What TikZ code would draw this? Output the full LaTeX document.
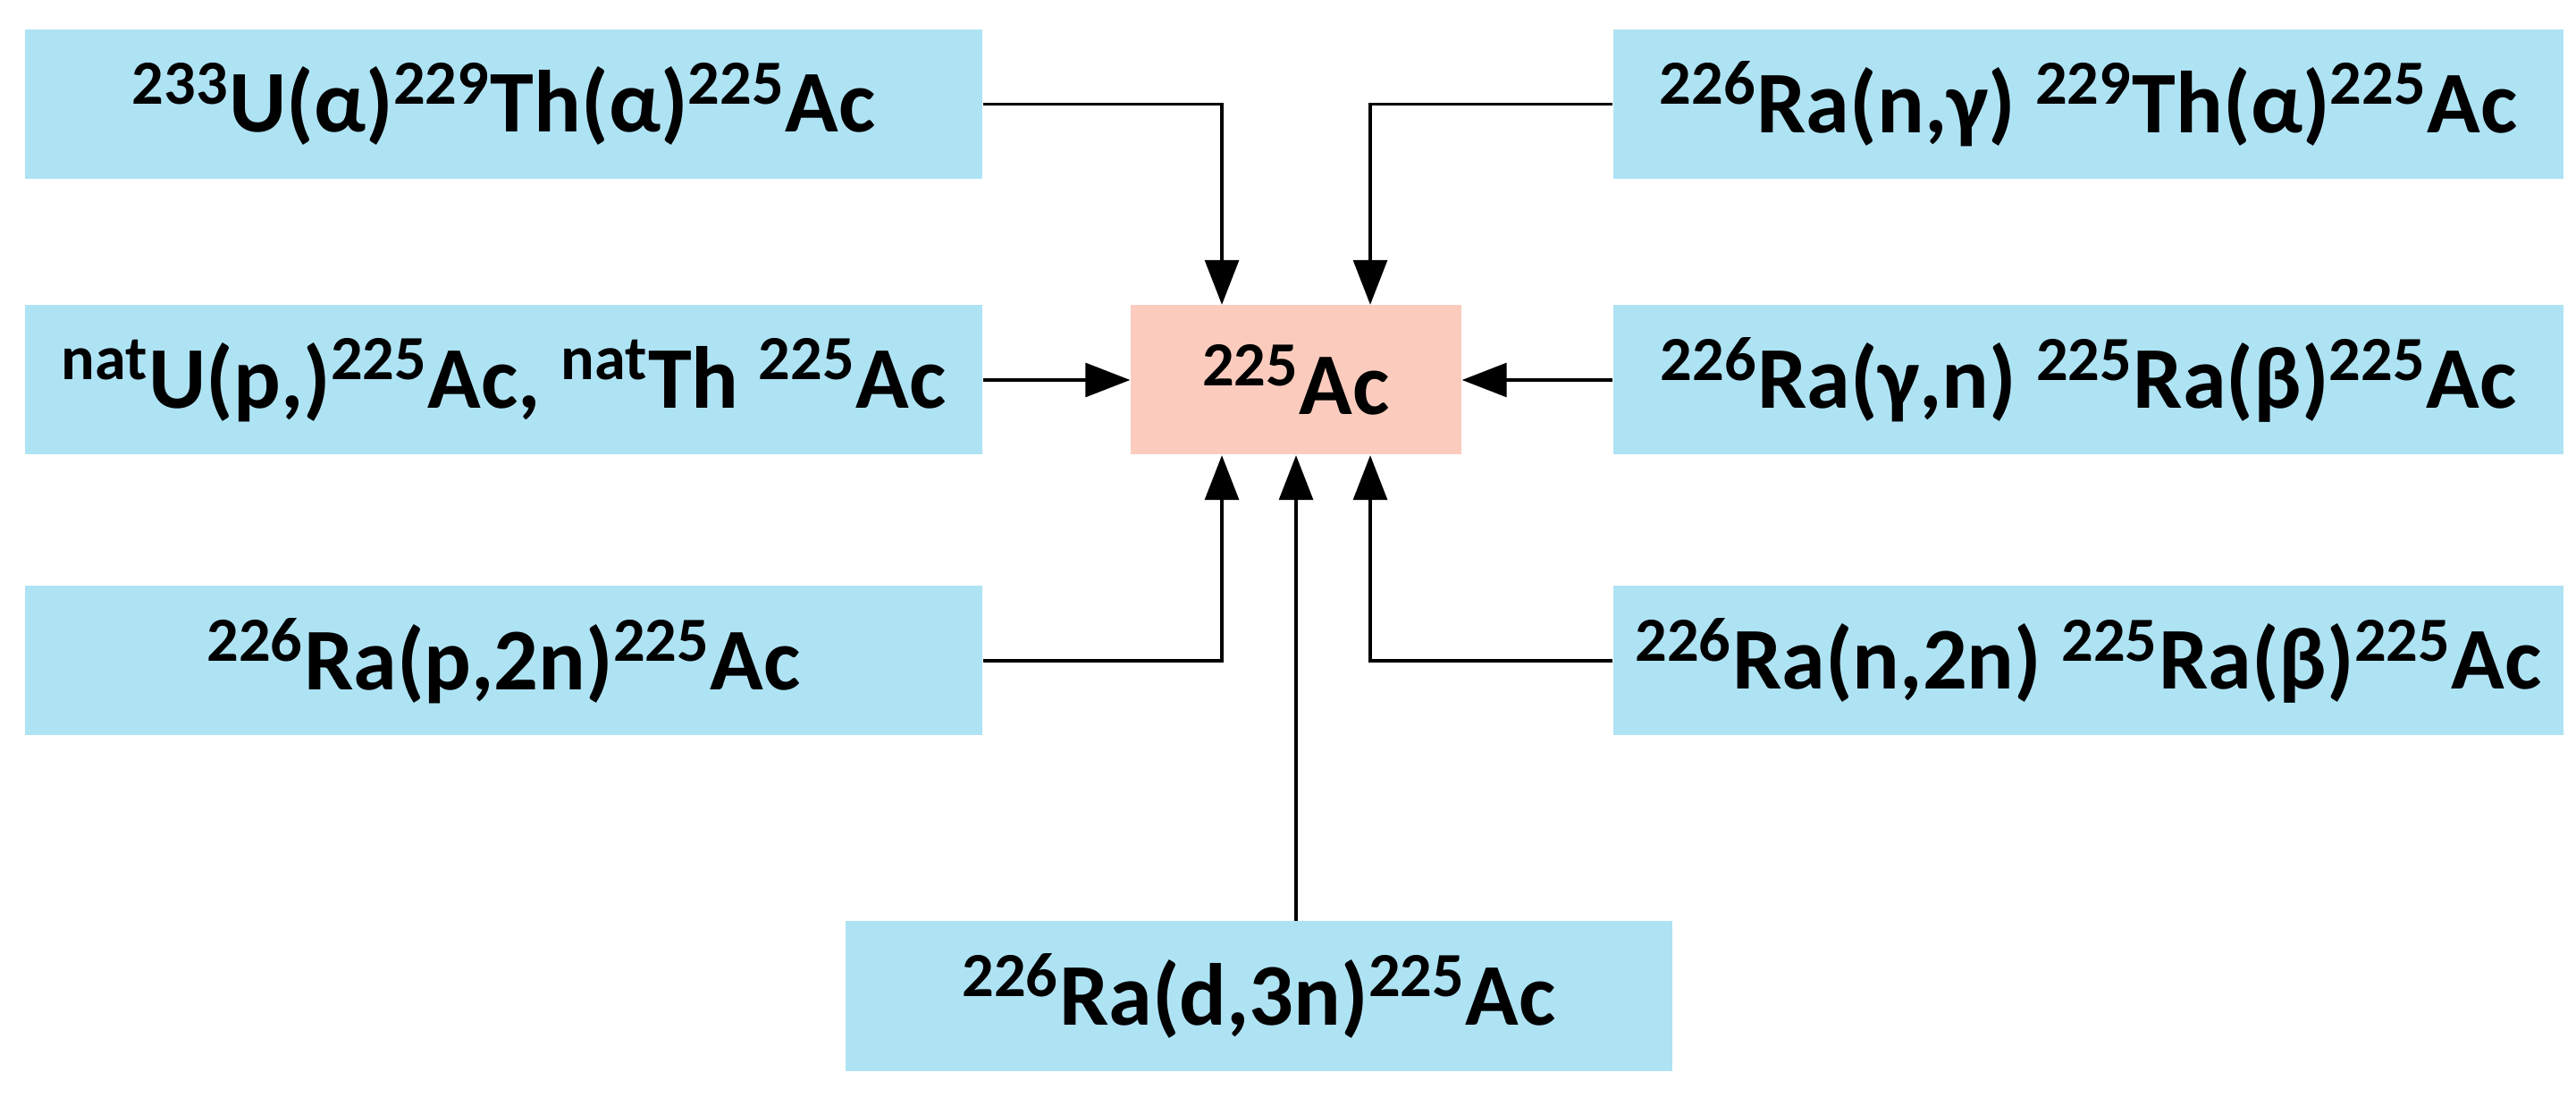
\documentclass[tikz,border=0pt]{standalone}
\usepackage{fontspec}
\setmainfont{Carlito}
\usetikzlibrary{arrows.meta}
\definecolor{bbox}{RGB}{174,227,244}
\definecolor{pbox}{RGB}{251,204,190}
\begin{document}
\begin{tikzpicture}[
  box/.style={fill=bbox,inner sep=0pt,font=\fontsize{28}{34}\selectfont\bfseries},
  lnk/.style={line width=0.9pt,-{Triangle[length=0.5cm,width=0.38cm]}},
]
\useasboundingbox (0,0) rectangle (28.82,12.27);
\newcommand{\su}[1]{\textsuperscript{\fontsize{20}{20}\selectfont #1}}
\node[box,minimum width=10.71cm,minimum height=1.67cm] (l1) at (5.635,11.105) {\su{233}U(α)\su{229}Th(α)\su{225}Ac};
\node[box,minimum width=10.71cm,minimum height=1.67cm] (l2) at (5.635,8.02) {\su{nat}U(p,)\su{225}Ac, \su{nat}Th \su{225}Ac};
\node[box,minimum width=10.71cm,minimum height=1.67cm] (l3) at (5.635,4.88) {\su{226}Ra(p,2n)\su{225}Ac};
\node[box,minimum width=10.63cm,minimum height=1.67cm] (r1) at (23.365,11.105) {\su{226}Ra(n,γ) \su{229}Th(α)\su{225}Ac};
\node[box,minimum width=10.63cm,minimum height=1.67cm] (r2) at (23.365,8.02) {\su{226}Ra(γ,n) \su{225}Ra(β)\su{225}Ac};
\node[box,minimum width=10.63cm,minimum height=1.67cm] (r3) at (23.365,4.88) {\su{226}Ra(n,2n) \su{225}Ra(β)\su{225}Ac};
\node[box,minimum width=9.25cm,minimum height=1.67cm] (b) at (14.085,1.13) {\su{226}Ra(d,3n)\su{225}Ac};
\node[box,fill=pbox,minimum width=3.7cm,minimum height=1.67cm] (c) at (14.5,8.02) {\su{225}Ac};
\draw[lnk] (l1.east) -| ([xshift=-0.83cm]c.north);
\draw[lnk] (r1.west) -| ([xshift=0.83cm]c.north);
\draw[lnk] (l2.east) -- (c.west);
\draw[lnk] (r2.west) -- (c.east);
\draw[lnk] (l3.east) -| ([xshift=-0.83cm]c.south);
\draw[lnk] (r3.west) -| ([xshift=0.83cm]c.south);
\draw[lnk] (b.north -| c.south) -- (c.south);
\end{tikzpicture}
\end{document}
